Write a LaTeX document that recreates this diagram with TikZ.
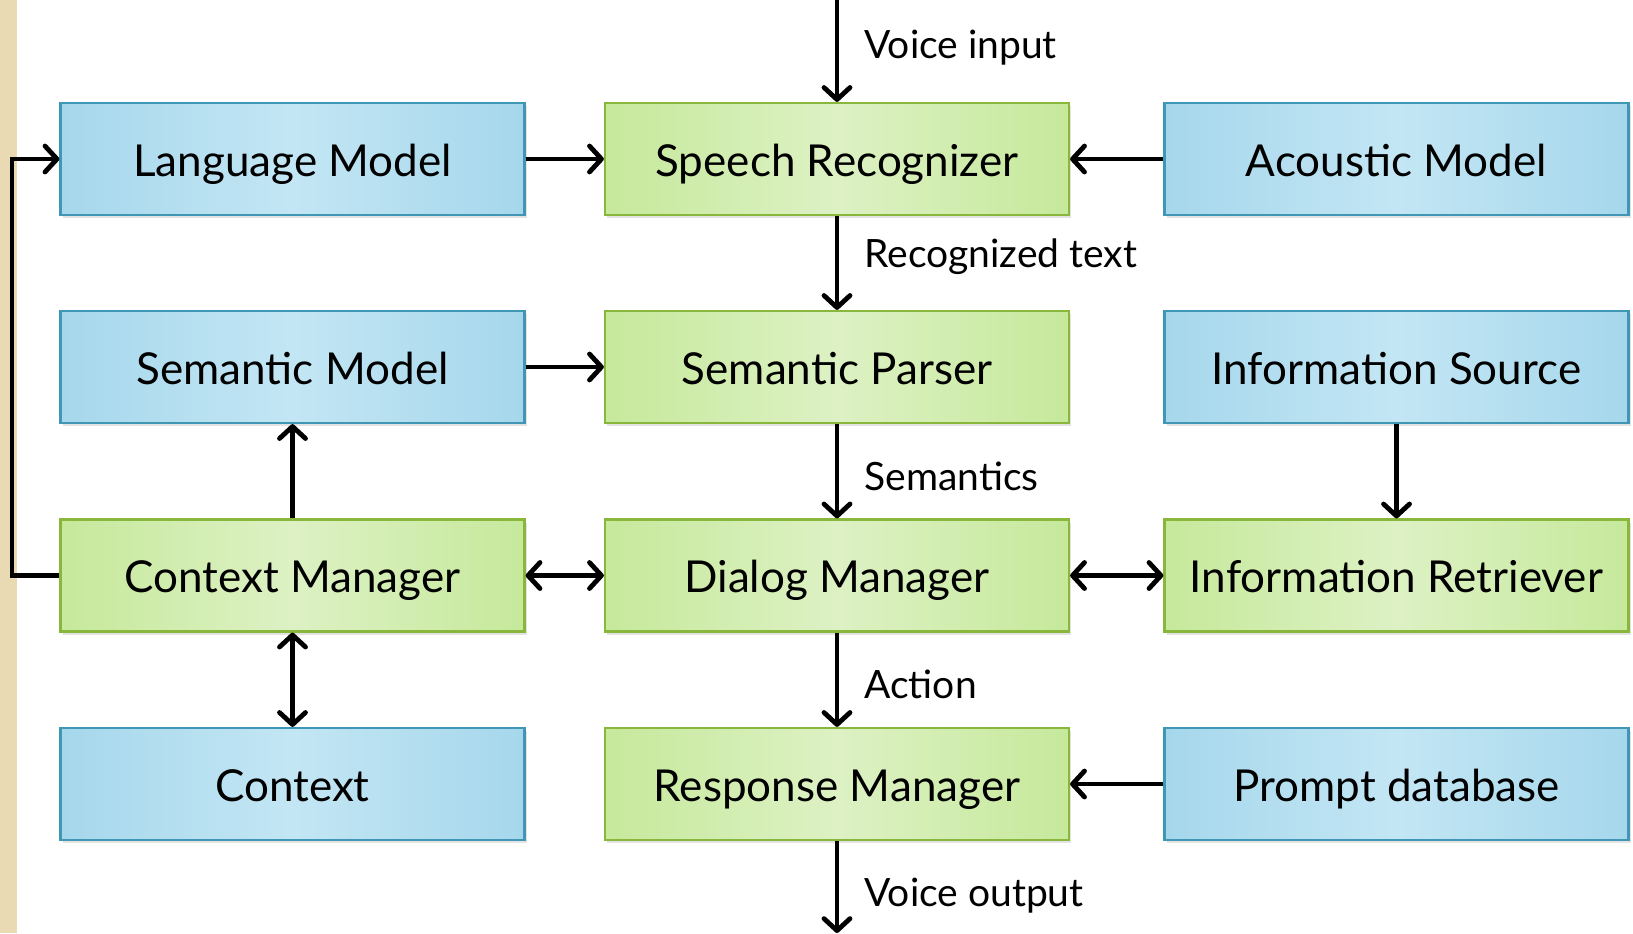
\documentclass[tikz,border=0pt]{standalone}
\usepackage{fontspec}
\setmainfont{Lato}
\usetikzlibrary{arrows.meta,shadows}
\definecolor{boxblue}{HTML}{A6D7EC}
\definecolor{boxbluemid}{HTML}{C3E6F4}
\definecolor{boxblueline}{HTML}{3F97B5}
\definecolor{boxgreen}{HTML}{C6E99B}
\definecolor{boxgreenmid}{HTML}{DDF1C4}
\definecolor{boxgreenline}{HTML}{88B73B}
\definecolor{pagebeige}{HTML}{E9DAB4}

\begin{document}
\begin{tikzpicture}[
  x=0.5pt, y=-0.5pt,
  bx/.style={rectangle, minimum width=232pt, minimum height=56pt, line width=1.1pt,
             font=\fontsize{22}{26}\selectfont, text height=17pt, text depth=0pt,
             drop shadow={opacity=0.22, shadow xshift=1.2pt, shadow yshift=-1.6pt}},
  mb/.style={bx, draw=boxblueline, left color=boxblue, right color=boxblue, middle color=boxbluemid},
  gb/.style={bx, draw=boxgreenline, left color=boxgreen, right color=boxgreen, middle color=boxgreenmid},
  ar/.style={-{Straight Barb[length=6pt, width=13pt, round]}, line width=2.4pt, black},
  dar/.style={ar, {Straight Barb[length=6pt, width=13pt, round]}-{Straight Barb[length=6pt, width=13pt, round]}},
  lab/.style={anchor=base west, inner sep=0pt, font=\fontsize{19.5}{23}\selectfont}
]
\useasboundingbox (0,0) rectangle (1633,933);
\fill[pagebeige] (0,0) rectangle (17,933);
% ----- models (left and right) and processing stages (middle) -----
\node[mb] (lm) at (292.5,159)   {Language Model};
\node[gb] (sr) at (837,159)     {Speech Recognizer};
\node[mb] (am) at (1396.5,159)  {Acoustic Model};
\node[mb] (sm) at (292.5,367)   {Semantic Model};
\node[gb] (sp) at (837,367)     {Semantic Parser};
\node[mb] (is) at (1396.5,367)  {Information Source};
\node[gb] (cm) at (292.5,575.5) {Context Manager};
\node[gb] (dm) at (837,575.5)   {Dialog Manager};
\node[gb] (ir) at (1396.5,575.5){Information Retriever};
\node[mb] (cx) at (292.5,784)   {Context};
\node[gb] (rm) at (837,784)     {Response Manager};
\node[mb] (pd) at (1396.5,784)  {Prompt database};
% ----- free ends -----
\coordinate (vin)  at (837,0);
\coordinate (vout) at (837,933);
\coordinate (loop) at (12,159);
\foreach \a/\b in {vin/sr, lm/sr, am/sr, sr/sp, sm/sp, sp/dm, is/ir, cm/sm, dm/rm, pd/rm, rm/vout}{\draw[ar] (\a) -- (\b);}
\foreach \a/\b in {cm/dm, dm/ir, cm/cx}{\draw[dar] (\a) -- (\b);}
% ----- context feeds back into the language model -----
\draw[ar] (cm.west) -| (loop) -- (lm.west);
% ----- labels on the main chain -----
\node[lab] (l1) at (864,58)  {Voice input};
\node[lab] (l2) at (864,267) {Recognized text};
\node[lab] (l3) at (864,490) {Semantics};
\node[lab] (l4) at (864,698) {Action};
\node[lab] (l5) at (864,906) {Voice output};
\end{tikzpicture}
\end{document}
